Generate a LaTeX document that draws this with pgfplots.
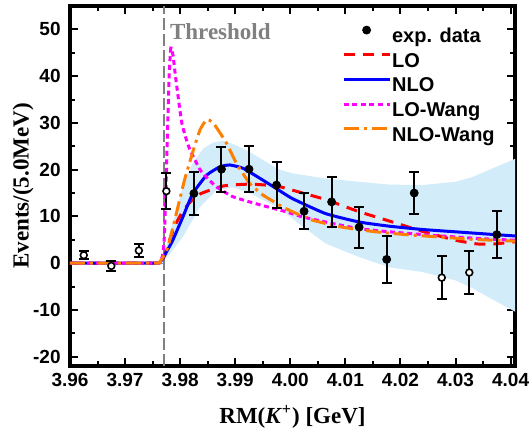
\documentclass[border=0pt]{standalone}
\usepackage{fontspec}
\setmainfont{Liberation Serif}
\newfontfamily\arialfont{Liberation Sans}
\usepackage{pgfplots}
\usepackage{pgfplotstable}
\pgfplotsset{compat=1.18}

\definecolor{band}{RGB}{210,236,250}
\definecolor{thgray}{RGB}{128,128,128}
\definecolor{myorange}{RGB}{255,128,0}
\definecolor{mymag}{RGB}{255,0,255}
\definecolor{myred}{RGB}{255,0,0}
\definecolor{myblue}{RGB}{0,0,255}

\pgfplotstableread{
x y e
3.9825 14.9 4.5
3.9875 20.1 4.8
3.9925 20.1 4.9
3.9975 16.7 5.0
4.0025 11.1 3.9
4.0075 13.1 5.4
4.0125 7.7 4.4
4.0175 0.8 5.0
4.0225 15.0 4.4
4.0375 6.1 5.0
}\filled
\pgfplotstableread{
x y e
3.9625 1.7 0.9
3.9675 -0.6 1.1
3.9725 2.7 1.3
3.9775 15.4 3.8
4.0275 -3.1 4.6
4.0325 -2.0 4.5
}\open

\begin{document}
\begin{tikzpicture}
\begin{axis}[name=ax,
  scale only axis, width=222.5pt, height=180pt,
  xmin=3.96, xmax=4.0408, ymin=-22, ymax=55,
  xtick={3.96,3.97,3.98,3.99,4.00,4.01,4.02,4.03,4.04},
  ytick={-20,-10,0,10,20,30,40,50},
  minor x tick num=1, minor y tick num=1,
  axis line style={line width=1.6pt},
  major tick length=4pt, minor tick length=2.5pt,
  tick style={black, line width=1pt},
  scaled x ticks=false,
  /pgf/number format/assume math mode=true,
  tick label style={font=\arialfont\bfseries\fontsize{9.5}{11}\selectfont},
  xticklabel style={/pgf/number format/fixed, /pgf/number format/fixed zerofill, /pgf/number format/precision=2, inner sep=0pt, yshift=-3.5pt},
  yticklabel style={inner sep=0pt, xshift=-4.5pt},
  xlabel={RM(\textit{K}\textsuperscript{+}) [GeV]},
  ylabel={Events/(5.0MeV)},
  label style={font=\bfseries\fontsize{11.5}{13}\selectfont},
  xlabel style={at={(axis description cs:0.5,-0.142)}, anchor=center},
  ylabel style={at={(axis description cs:-0.1056,0.5)}, anchor=center},
  legend style={draw=none, fill=none, font=\arialfont\bfseries\fontsize{10}{12}\selectfont,
    at={(axis description cs:0.6106,0.9467)}, anchor=north west, inner sep=0pt, row sep=0.85pt,
    nodes={inner sep=0.5pt, text height=8pt, text depth=2.5pt}},
  legend cell align=left,
  legend image code/.code={\draw[#1] (0pt,3.5pt) -- (23pt,3.5pt);},
]
% error band
\addplot[fill=band, draw=none, forget plot] coordinates {
(3.9760,0) (3.9768,0.8) (3.9780,6) (3.9790,10) (3.9805,16.5) (3.9823,21.5) (3.9842,24.5)
(3.9860,25.8) (3.9878,26.2) (3.9900,25.3) (3.9926,23.8) (3.9944,22.5) (3.9980,20.0)
(4.0004,19.2) (4.0064,18.1) (4.0125,17.4) (4.0180,16.8) (4.0240,16.7) (4.0300,17.4)
(4.0330,18.4) (4.0360,19.9) (4.0410,22.4)
(4.0410,-10.5) (4.0360,-7.3) (4.0330,-5.3) (4.0300,-3.7) (4.0240,-1.9) (4.0180,-0.9)
(4.0125,1.3) (4.0064,4.2) (4.0004,9.5) (3.9986,11.3) (3.9956,13.2) (3.9926,15.0)
(3.9896,16.2) (3.9866,15.6) (3.9836,12.0) (3.9806,5.8) (3.9790,3.3) (3.9780,1.8)
(3.9768,0.3) (3.9760,0)
} -- cycle;
% threshold
\addplot[thgray, line width=1.2pt, dash pattern=on 6pt off 2pt, forget plot] coordinates {(3.9771,-22) (3.9771,55)};
\node[anchor=west, inner sep=0pt, text=thgray, font=\bfseries\fontsize{11.5}{13}\selectfont] at (axis cs:3.9781,49.5) {Threshold};

\addlegendimage{legend image code/.code={\fill[black] (11.5pt,3.5pt) circle (2pt);}}
\addlegendentry{exp. data}

% LO
\addplot[myred, line width=1.5pt, dash pattern=on 5.5pt off 4pt, smooth, tension=0.3] coordinates {
(3.960,0) (3.9755,0) (3.9763,0.3) (3.9769,1.0) (3.9775,2.6) (3.9782,5.3) (3.9792,8.4)
(3.9806,11.3) (3.9820,13.3) (3.9836,14.8) (3.9878,16.5) (3.9926,16.9) (3.9975,16.5) (4.0004,15.6)
(4.0064,13.6) (4.0125,11.0) (4.0180,9.0) (4.0240,6.8) (4.0300,4.9) (4.0340,4.1)
(4.0370,4.1) (4.0410,4.6)};
\addlegendentry{LO}
% NLO
\addplot[myblue, line width=1.5pt, smooth, tension=0.3] coordinates {
(3.960,0) (3.9755,0) (3.9763,0.2) (3.9768,0.9) (3.9778,3.0) (3.9787,5.0) (3.9805,9.9)
(3.9823,14.9) (3.9848,18.8) (3.9872,20.6) (3.9890,21.0) (3.9914,20.3) (3.9944,18.2)
(3.9974,16.0) (4.0004,13.8) (4.0064,10.6) (4.0125,8.8) (4.0180,7.9) (4.0240,7.2)
(4.0300,6.7) (4.0360,6.2) (4.0410,5.8)};
\addlegendentry{NLO}
% LO-Wang
\addplot[mymag, line width=1.5pt, dash pattern=on 2.5pt off 1.8pt, smooth, tension=0.3] coordinates {
(3.960,0) (3.9755,0) (3.9763,0.4) (3.9768,1.5) (3.9771,5) (3.9774,15) (3.9777,28)
(3.9780,40) (3.9783,46) (3.9787,44.5) (3.9791,40.5) (3.9797,35) (3.9803,30)
(3.9811,26.5) (3.9818,24.2) (3.9836,20) (3.9851,18) (3.9866,16.3) (3.9896,14.2)
(3.9944,12.5) (3.9992,11.0) (4.0022,9.9) (4.0076,8.5) (4.0124,7.4) (4.0180,6.7)
(4.0242,6.1) (4.0300,5.6) (4.0352,5.2) (4.0410,4.9)};
\addlegendentry{LO-Wang}
% NLO-Wang
\addplot[myorange, line width=1.5pt, dash pattern=on 7.5pt off 2.5pt on 1.5pt off 2.5pt, smooth, tension=0.3] coordinates {
(3.960,0) (3.9755,0) (3.9763,0.3) (3.9770,1.5) (3.9778,3.5) (3.9793,10.6) (3.9808,17.8)
(3.9824,24.2) (3.9836,28.5) (3.9848,30.7) (3.9860,30.0) (3.9884,25.7) (3.9902,21.4)
(3.9926,17.1) (3.9950,14.6) (3.9968,13.3) (3.9986,12.0) (4.0004,11.0) (4.0040,9.2)
(4.0094,7.7) (4.0155,6.7) (4.0210,6.1) (4.0270,5.6) (4.0330,5.1) (4.0410,4.7)};
\addlegendentry{NLO-Wang}

% data
\addplot[only marks, mark=*, mark size=2pt, black, forget plot,
  error bars/.cd, y dir=both, y explicit,
  error bar style={line width=1pt},
  error mark options={rotate=90, mark size=2.5pt, line width=1pt}]
  table[x=x, y=y, y error=e] {\filled};
\addplot[only marks, mark=*, mark size=1.7pt, black, mark options={fill=white, draw=black, line width=0.8pt}, forget plot,
  error bars/.cd, y dir=both, y explicit,
  error bar style={line width=1pt},
  error mark options={rotate=90, mark size=2.5pt, line width=1pt}]
  table[x=x, y=y, y error=e] {\open};
\end{axis}
\pgfresetboundingbox
\path ([xshift=-35pt,yshift=-34.5pt]ax.south west) rectangle ([xshift=8.5pt,yshift=3pt]ax.north east);
\end{tikzpicture}
\end{document}
